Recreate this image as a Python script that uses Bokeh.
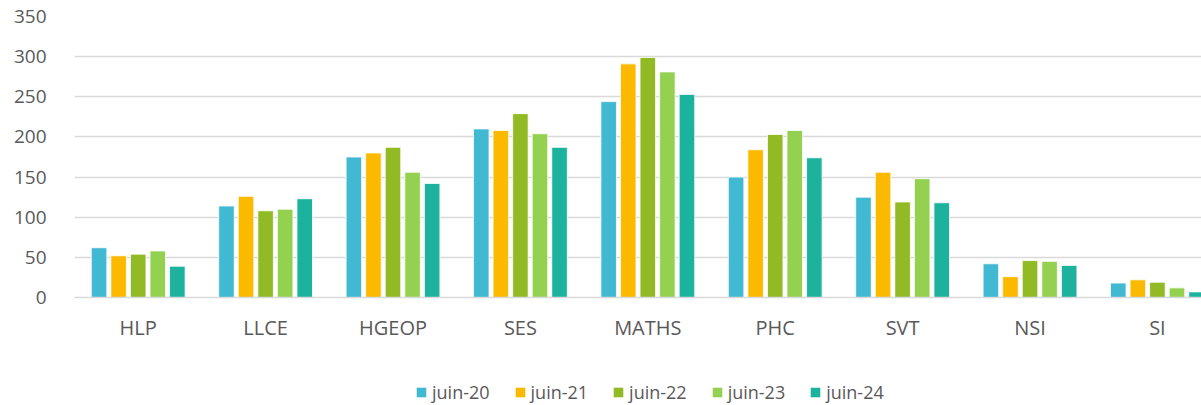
from bokeh.plotting import figure
from bokeh.layouts import column
from bokeh.models import Range1d, ColumnDataSource, Legend, LegendItem, FixedTicker, SingleIntervalTicker
from bokeh.embed import file_html
from bokeh.resources import INLINE

categories = ["HLP", "LLCE", "HGEOP", "SES", "MATHS", "PHC", "SVT", "NSI", "SI"]
series_names = ["juin-20", "juin-21", "juin-22", "juin-23", "juin-24"]
juin20 = [62, 114, 175, 210, 244, 150, 125, 42, 18]
juin21 = [52, 126, 180, 208, 291, 184, 156, 26, 22]
juin22 = [54, 108, 187, 229, 299, 203, 119, 46, 19]
juin23 = [58, 110, 156, 204, 281, 208, 148, 45, 12]
juin24 = [39, 123, 142, 187, 253, 174, 118, 40, 7]
series_values = [juin20, juin21, juin22, juin23, juin24]
colors = ["#41B9D3", "#FBB900", "#92BA25", "#95D150", "#1CB29E"]

FONT = "Open Sans"
TEXT_COLOR = "#595959"

MAIN_H = 355
p = figure(width=1201, height=MAIN_H, output_backend="svg", toolbar_location=None,
           x_range=Range1d(-0.5, 8.346), y_range=Range1d(0, 350),
           min_border_left=74, min_border_right=0, min_border_top=16,
           min_border_bottom=MAIN_H - 16 - 281)
p.outline_line_color = None
p.background_fill_color = "white"
p.border_fill_color = "white"

pitch = 0.1536
bar_w = 0.122
for k, (name, vals, col) in enumerate(zip(series_names, series_values, colors)):
    xs = [i + (k - 2) * pitch for i in range(len(categories))]
    src = ColumnDataSource(dict(x=xs, top=vals))
    p.vbar(x="x", top="top", width=bar_w, bottom=0, source=src,
           fill_color=col, line_color="white", line_width=0.8)

# axes
p.xaxis.ticker = FixedTicker(ticks=list(range(len(categories))))
p.xaxis.major_label_overrides = {i: c for i, c in enumerate(categories)}
p.xaxis.axis_line_color = "#d9d9d9"
p.xaxis.axis_line_width = 1.5
p.xaxis.major_tick_line_color = None
p.xaxis.minor_tick_line_color = None
p.xaxis.major_label_text_font = FONT
p.xaxis.major_label_text_font_size = "20px"
p.xaxis.major_label_text_color = TEXT_COLOR
p.xaxis.major_label_standoff = 10

p.yaxis.ticker = SingleIntervalTicker(interval=50)
p.yaxis.axis_line_color = None
p.yaxis.major_tick_line_color = None
p.yaxis.minor_tick_line_color = None
p.yaxis.major_label_text_font = FONT
p.yaxis.major_label_text_font_size = "19px"
p.yaxis.major_label_text_color = TEXT_COLOR
p.yaxis.major_label_standoff = 22

p.xgrid.grid_line_color = None
p.ygrid.grid_line_color = "#d9d9d9"
p.ygrid.grid_line_width = 1.5

# legend in its own strip below the chart (frames are aligned by the column)
LEG_H = 50
lf = figure(width=1201, height=LEG_H, output_backend="svg", toolbar_location=None,
            x_range=Range1d(0, 1), y_range=Range1d(0, 1),
            min_border=0, x_axis_type=None, y_axis_type=None)
lf.outline_line_color = None
lf.xgrid.grid_line_color = None
lf.ygrid.grid_line_color = None
items = []
for name, col in zip(series_names, colors):
    r = lf.vbar(x="x", top="top", width=0.1, source=ColumnDataSource(dict(x=[-10], top=[0])),
                fill_color=col, line_color=None)
    items.append(LegendItem(label=name, renderers=[r]))
legend = Legend(items=items, orientation="horizontal", location=(341, 1),
                padding=0, margin=0, spacing=24,
                glyph_width=12, glyph_height=12, label_standoff=5,
                label_text_font=FONT, label_text_font_size="18px",
                label_text_color=TEXT_COLOR,
                border_line_color=None, background_fill_alpha=0)
lf.add_layout(legend, "center")

layout = column(p, lf, spacing=0)
open("out.html", "w").write(file_html(layout, INLINE))
